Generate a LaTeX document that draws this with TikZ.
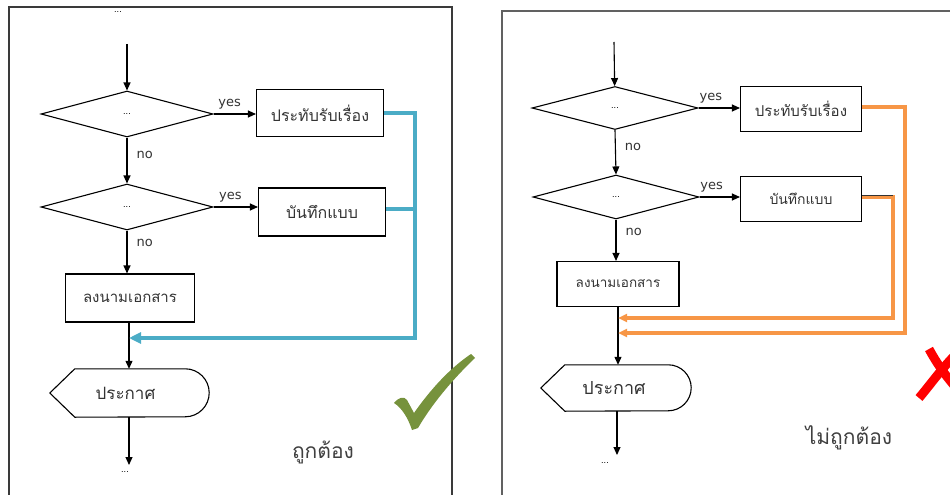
\documentclass[tikz,border=0pt]{standalone}
\usepackage{fontspec}
\setmainfont{DejaVu Sans}
\newfontfamily\thai[Script=Thai]{Loma}
\usetikzlibrary{shapes.geometric}
\usetikzlibrary{arrows.meta}
\definecolor{okblue}{HTML}{4BACC6}
\definecolor{badorange}{HTML}{F79646}
\definecolor{okgreen}{HTML}{76923C}
\definecolor{framegray}{HTML}{3A3A3A}
\newcommand*{\fs}[1]{\fontsize{#1}{#1}\selectfont}

\begin{document}
\begin{tikzpicture}[x=1pt, y=-1pt, line join=miter,
    dec/.style  = {diamond, draw, line width=1.1pt, inner sep=0pt, aspect=3.7, font=\fs{8}},
    proc/.style = {rectangle, draw, line width=1.1pt, inner sep=0pt, text=black!80},
    word/.style = {inner sep=0pt, font=\fs{13}, text=black!80},
    flow/.style = {-{Triangle[length=8pt,width=7pt]}, line width=1.1pt},
    back/.style = {line width=4pt, okblue, -{Triangle[length=12pt,width=11pt]}},
    wrong/.style= {line width=3.2pt, badorange, -{Triangle[length=9pt,width=8pt]}}]
    \useasboundingbox (0,0) rectangle (950,495);
    \draw [framegray, line width=1.2pt] (9,7) rectangle (452,510);
    \draw [framegray!80, line width=1.2pt] (502,11) rectangle (970,510);

    % left: correct
    \node [inner sep=0pt, font=\fs{8}] (ltop) at (118,12) {...};
    \coordinate (lin) at (127,44);
    \node [dec, minimum width=172pt, minimum height=46pt] (ld1) at (127,114) {...};
    \node [proc, minimum width=127pt, minimum height=47pt, font=\thai\fs{16}] (lb1) at (320,113) {ประทับรับเรื่อง};
    \node [dec, minimum width=172pt, minimum height=46pt] (ld2) at (127,207) {...};
    \node [proc, minimum width=127pt, minimum height=48pt, font=\thai\fs{16}] (lb2) at (322,212) {บันทึกแบบ};
    \node [proc, minimum width=129pt, minimum height=48pt, font=\thai\fs{15}] (lb3) at (130,298) {ลงนามเอกสาร};
    \node [inner sep=0pt, minimum width=159pt, minimum height=48pt, font=\thai\fs{17}, text=black!80] (lshow) at (129.5,393) {\hspace*{-8pt}ประกาศ};
    \node [inner sep=0pt, font=\fs{8}] (lend) at (125,472) {...};
    \coordinate (lmerge) at (129,338);
    \coordinate (lout) at (129,465);
    \draw [line width=1.1pt] (lshow.west) -- ([xshift=25pt]lshow.north west) -- ([xshift=-24pt]lshow.north east)
        arc [start angle=90, end angle=-90, radius=24pt] -- ([xshift=25pt]lshow.south west) -- cycle;
    \draw [flow] (lin) -- (ld1);
    \draw [flow] (ld1.east) -- (lb1.west |- ld1.east) node [word, pos=0.38, above=4pt] {yes};
    \draw [flow] (ld1.south) -- (ld2.north) node [word, pos=0.38, right=9pt] {no};
    \draw [flow] (ld2.east) -- (lb2.west |- ld2.east) node [word, pos=0.38, above=4pt] {yes};
    \draw [flow] (ld2.south) -- (lb3.north -| ld2.south) node [word, pos=0.3, right=9pt] {no};
    \draw [flow] (lb3.south -| lmerge) -- (lshow.north -| lmerge);
    \draw [flow] (lshow.south -| lout) -- (lout);
    \draw [back] (lb1.east) -- (415,113) -- (415,338) -- (lmerge);
    \draw [okblue, line width=4pt] (lb2.east |- 0,209) -- (415,209);
    \fill [okgreen] (394,403) .. controls (399,397) and (404,396) .. (407,400) -- (414,413)
        .. controls (430,390) and (450,368) .. (471,354) -- (475,358)
        .. controls (452,380) and (432,404) .. (418,428) -- (412,430) .. controls (408,418) and (402,408) .. cycle;
    \node [inner sep=0pt, font=\thai\fs{21}, text=black!75] (lok) at (323,452) {ถูกต้อง};

    % right: wrong
    \coordinate (rin) at (614,42);
    \node [dec, minimum width=166pt, minimum height=43pt] (rd1) at (615,108) {...};
    \node [proc, minimum width=121pt, minimum height=45pt, font=\thai\fs{15}] (rb1) at (801,109) {ประทับรับเรื่อง};
    \node [dec, minimum width=166pt, minimum height=44pt] (rd2) at (616,197) {...};
    \node [proc, minimum width=121pt, minimum height=45pt, font=\thai\fs{14}] (rb2) at (801,199) {บันทึกแบบ};
    \node [proc, minimum width=122pt, minimum height=45pt, font=\thai\fs{13.5}] (rb3) at (618,284) {ลงนามเอกสาร};
    \node [inner sep=0pt, minimum width=150pt, minimum height=46pt, font=\thai\fs{18}, text=black!80] (rshow) at (616,388) {\hspace*{-4pt}ประกาศ};
    \node [inner sep=0pt, font=\fs{8}] (rend) at (605,463) {...};
    \coordinate (rmerge1) at (618,318);
    \coordinate (rmerge2) at (618,333);
    \coordinate (rout) at (617,455);
    \draw [line width=1.1pt] (rshow.west) -- ([xshift=24pt]rshow.north west) -- ([xshift=-23pt]rshow.north east)
        arc [start angle=90, end angle=-90, radius=23pt] -- ([xshift=24pt]rshow.south west) -- cycle;
    \draw [flow] (rin) -- (rd1);
    \draw [flow] (rd1.east) -- (rb1.west |- rd1.east) node [word, pos=0.3, above=4pt] {yes};
    \draw [flow] (rd1.south) -- (rd2.north) node [word, pos=0.38, right=9pt] {no};
    \draw [flow] (rd2.east) -- (rb2.west |- rd2.east) node [word, pos=0.3, above=4pt] {yes};
    \draw [flow] (rd2.south) -- (rb3.north -| rd2.south) node [word, pos=0.3, right=9pt] {no};
    \draw [flow] (rb3.south -| rmerge1) -- (rshow.north -| rmerge1);
    \draw [flow] (rshow.south -| rout) -- (rout);
    \draw [wrong] (rb1.east |- 0,107) -- (905,107) -- (905,333) -- (rmerge2);
    \draw [wrong] (rb2.east |- 0,197) -- (893,197) -- (893,318) -- (rmerge1);
    \draw [black!80, line width=1pt] (rb2.east |- 0,195.5) -- (893,195.5);
    \draw [red, line width=9pt] (919,398) .. controls (930,385) and (942,368) .. (958,352);
    \draw [red, line width=9pt] (929,349) .. controls (936,362) and (944,374) .. (958,390);
    \node [inner sep=0pt, font=\thai\fs{21}, text=black!75] (rbad) at (849,438) {ไม่ถูกต้อง};
\end{tikzpicture}
\end{document}
